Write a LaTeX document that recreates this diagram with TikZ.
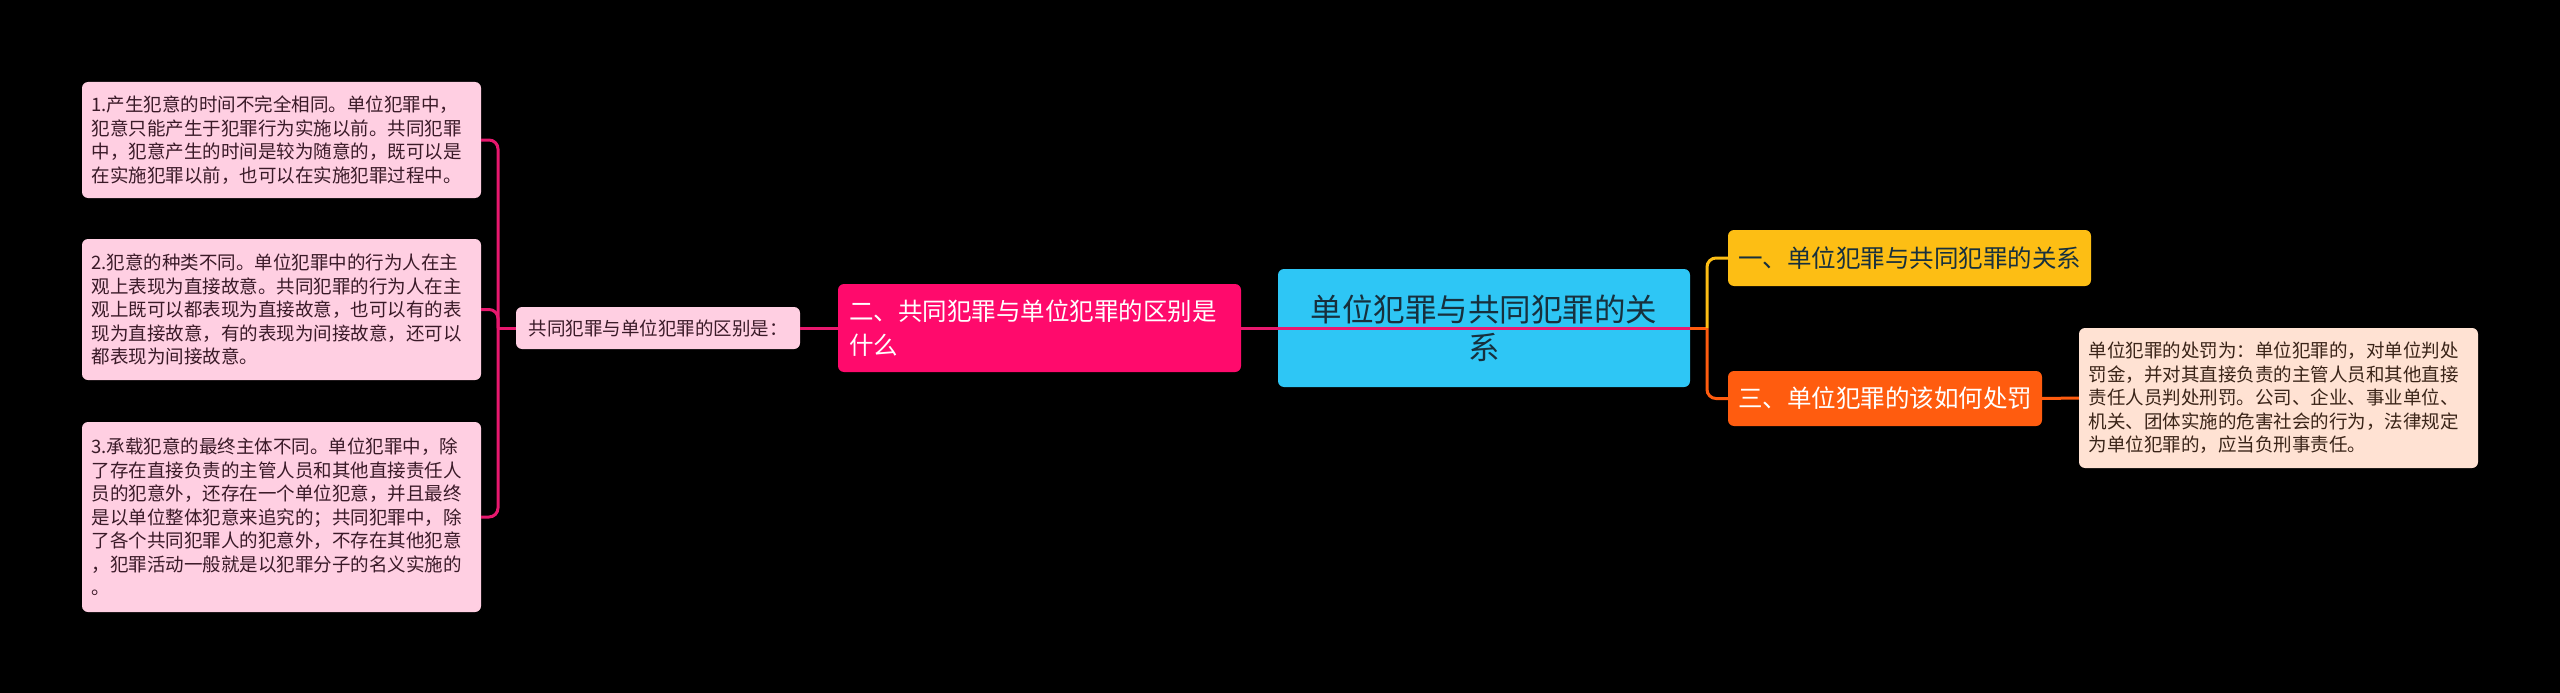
\documentclass[tikz,border=0pt]{standalone}
\usepackage{fontspec}
\setmainfont{Noto Sans CJK SC}
\definecolor{leafpink}{HTML}{FFCFE2}
\definecolor{leafpeach}{HTML}{FFE2D3}
\definecolor{leafink}{HTML}{3A1A28}
\definecolor{peachink}{HTML}{3A2418}
\definecolor{magenta}{HTML}{FF0A6C}
\definecolor{magline}{HTML}{E8186E}
\definecolor{rootcyan}{HTML}{2EC6F5}
\definecolor{rootink}{HTML}{17303D}
\definecolor{amber}{HTML}{FDBE14}
\definecolor{burnt}{HTML}{FF5C0F}

\begin{document}
\begin{tikzpicture}[x=1pt,y=-1pt,
	leafnote/.style={fill=leafpink,rounded corners=6pt,text=leafink,font=\fontsize{18.5}{23.5}\selectfont,align=left,text width=380pt,inner xsep=9.5pt,inner ysep=0pt},
	mainnote/.style={rounded corners=6pt,inner sep=0pt,font=\fontsize{24.5}{34}\selectfont},
	magwire/.style={draw=magline,line width=3pt},
	amberwire/.style={draw=amber,line width=3pt},
	burntwire/.style={draw=burnt,line width=3pt}]
	\useasboundingbox[fill=black] (0,0) rectangle (2560,693);

%% Left leaf notes
	\node[leafnote,minimum height=116pt] (fact1) at (281.5,140) {1.产生犯意的时间不完全相同。单位犯罪中，\\犯意只能产生于犯罪行为实施以前。共同犯罪\\中，犯意产生的时间是较为随意的，既可以是\\在实施犯罪以前，也可以在实施犯罪过程中。};
	\node[leafnote,minimum height=141pt] (fact2) at (281.5,309.5) {2.犯意的种类不同。单位犯罪中的行为人在主\\观上表现为直接故意。共同犯罪的行为人在主\\观上既可以都表现为直接故意，也可以有的表\\现为直接故意，有的表现为间接故意，还可以\\都表现为间接故意。};
	\node[leafnote,minimum height=190pt] (fact3) at (281.5,517) {3.承载犯意的最终主体不同。单位犯罪中，除\\了存在直接负责的主管人员和其他直接责任人\\员的犯意外，还存在一个单位犯意，并且最终\\是以单位整体犯意来追究的；共同犯罪中，除\\了各个共同犯罪人的犯意外，不存在其他犯意\\，犯罪活动一般就是以犯罪分子的名义实施的\\。};

%% Difference node
	\node[fill=leafpink,rounded corners=6pt,inner sep=0pt,text=leafink,font=\fontsize{18.5}{23.5}\selectfont,minimum width=284pt,minimum height=42pt] (diff) at (658,328) {共同犯罪与单位犯罪的区别是：};

%% Main topics
	\node[mainnote,fill=magenta,text=white,align=left,text width=381pt,inner xsep=11pt,minimum height=88pt] (q2) at (1039.5,328) {二、共同犯罪与单位犯罪的区别是\\什么};
	\node[rounded corners=6pt,fill=rootcyan,text=rootink,font=\fontsize{31.5}{38}\selectfont,align=center,minimum width=412pt,minimum height=118pt,inner sep=0pt] (root) at (1484,328) {单位犯罪与共同犯罪的关\\系};
	\node[mainnote,fill=amber,text=rootink,minimum width=363pt,minimum height=56pt] (q1) at (1909.5,258) {一、单位犯罪与共同犯罪的关系};
	\node[mainnote,fill=burnt,text=white,minimum width=314pt,minimum height=55pt] (q3) at (1885,398.5) {三、单位犯罪的该如何处罚};

%% Right leaf note
	\node[leafnote,fill=leafpeach,text=peachink,minimum height=140pt] (penalty) at (2278.5,398) {单位犯罪的处罚为：单位犯罪的，对单位判处\\罚金，并对其直接负责的主管人员和其他直接\\责任人员判处刑罚。公司、企业、事业单位、\\机关、团体实施的危害社会的行为，法律规定\\为单位犯罪的，应当负刑事责任。};

%% Lines
	\coordinate (lj) at (498,328);
	\coordinate (rj) at (1707,328);
	\draw[magwire] (diff.west) -- (lj);
	\foreach \f in {fact1,fact2,fact3}
		\draw[magwire,rounded corners=9pt] (lj) |- (\f.east);
	\draw[magwire] (diff.east) -- (q2.west);
	\draw[magwire] (q2.east) -- (root.east);
	\draw[burntwire] (root.east) -- (rj);
	\draw[amberwire,rounded corners=9pt] (rj) |- (q1.west);
	\draw[burntwire,rounded corners=9pt] (rj) |- (q3.west);
	\draw[burntwire] (q3.east) -- (penalty.west);
\end{tikzpicture}
\end{document}
